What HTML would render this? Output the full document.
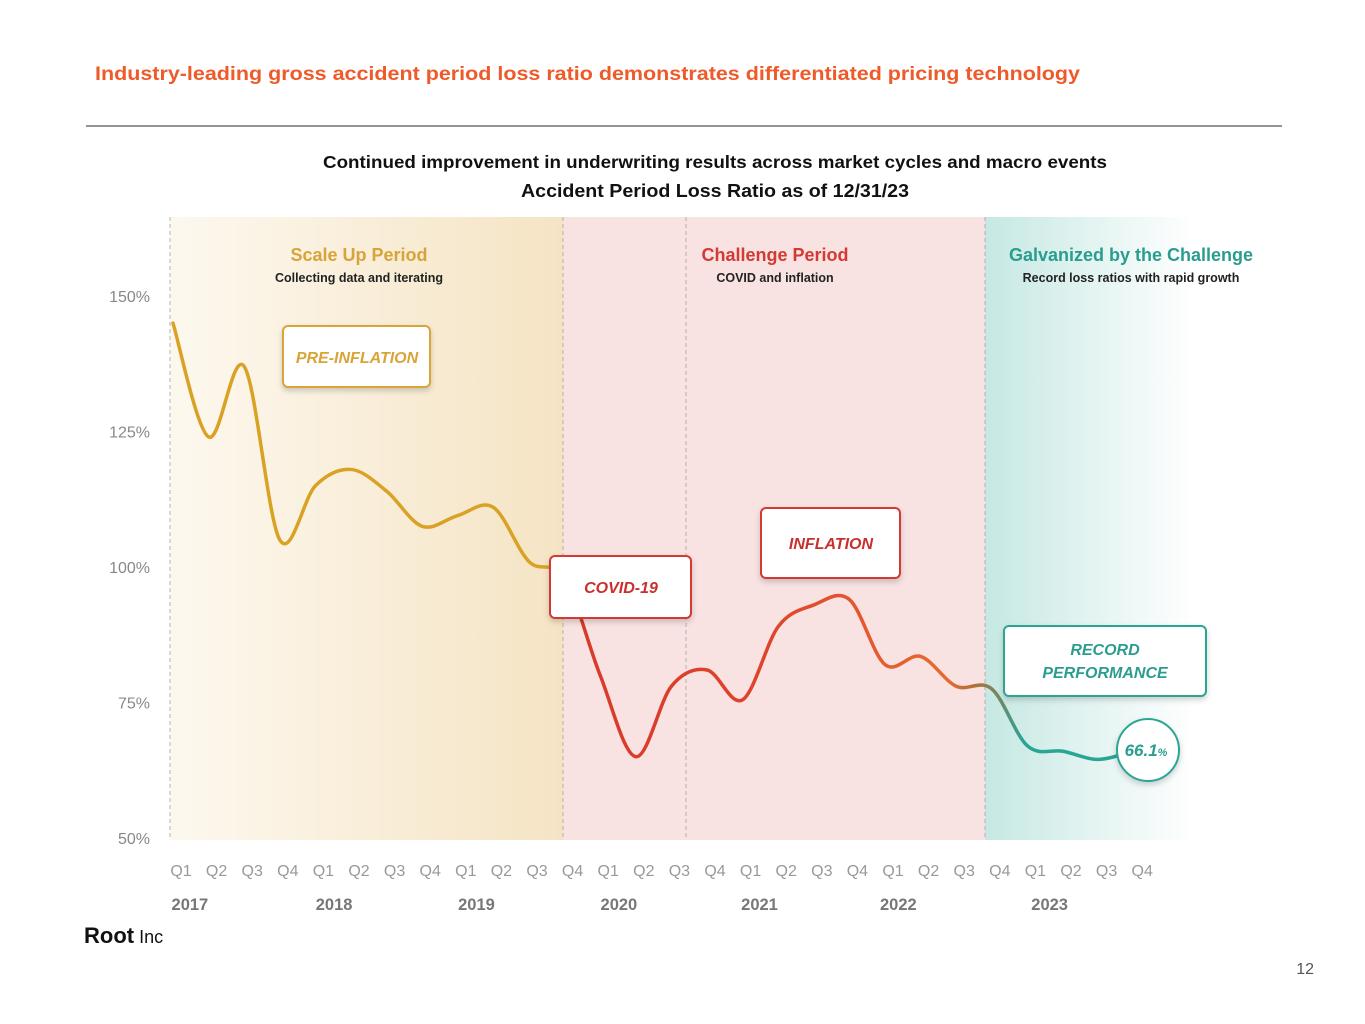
<!DOCTYPE html>
<html><head><meta charset="utf-8">
<style>
body{margin:0;width:1365px;height:1024px;background:#fff;font-family:"Liberation Sans",sans-serif;position:relative;overflow:hidden}
svg{position:absolute;left:0;top:0}
</style></head>
<body>
<svg width="1365" height="1024">
<defs>
<linearGradient id="gScale" x1="0" x2="1" y1="0" y2="0"><stop offset="0" stop-color="#fdf8ef"/><stop offset="1" stop-color="#f5e4c4"/></linearGradient>
<linearGradient id="gGalv" x1="0" x2="1" y1="0" y2="0"><stop offset="0" stop-color="#c6e8e3"/><stop offset="1" stop-color="#ffffff"/></linearGradient>
<linearGradient id="gLine" gradientUnits="userSpaceOnUse" x1="170" x2="1140" y1="0" y2="0">
<stop offset="0.40" stop-color="#d9a225"/><stop offset="0.41" stop-color="#d63a2a"/><stop offset="0.62" stop-color="#e0442c"/><stop offset="0.8" stop-color="#e86a30"/><stop offset="0.83" stop-color="#b0703a"/><stop offset="0.88" stop-color="#2aa594"/><stop offset="1" stop-color="#2aa594"/></linearGradient>
<filter id="sh" x="-20%" y="-20%" width="140%" height="150%"><feDropShadow dx="0" dy="3" stdDeviation="3" flood-color="#000" flood-opacity="0.18"/></filter>
</defs>
<text x="95" y="80" font-size="19.5" font-weight="bold" fill="#ef5a2a" textLength="985" lengthAdjust="spacingAndGlyphs">Industry-leading gross accident period loss ratio demonstrates differentiated pricing technology</text>
<line x1="86" y1="126" x2="1282" y2="126" stroke="#555" stroke-width="1.2"/>
<text x="323" y="168" font-size="17.5" font-weight="bold" fill="#111" textLength="784" lengthAdjust="spacingAndGlyphs">Continued improvement in underwriting results across market cycles and macro events</text>
<text x="521" y="197" font-size="18" font-weight="bold" fill="#111" textLength="388" lengthAdjust="spacingAndGlyphs">Accident Period Loss Ratio as of 12/31/23</text>
<rect x="170" y="217" width="393" height="623" fill="url(#gScale)"/>
<rect x="563" y="217" width="422" height="623" fill="#f8e2e2"/>
<rect x="985" y="217" width="210" height="623" fill="url(#gGalv)"/>
<g stroke="#b9b0b0" stroke-dasharray="4,3" stroke-width="1">
<line x1="170" y1="217" x2="170" y2="840"/>
<line x1="563" y1="217" x2="563" y2="840"/>
<line x1="686" y1="217" x2="686" y2="840"/>
<line x1="985" y1="217" x2="985" y2="840"/>
</g>
<text x="359" y="261" font-size="18" font-weight="bold" text-anchor="middle" fill="#d9a437">Scale Up Period</text>
<text x="359" y="282" font-size="12.5" font-weight="bold" text-anchor="middle" fill="#222">Collecting data and iterating</text>
<text x="775" y="261" font-size="18" font-weight="bold" text-anchor="middle" fill="#d23a35">Challenge Period</text>
<text x="775" y="282" font-size="12.5" font-weight="bold" text-anchor="middle" fill="#222">COVID and inflation</text>
<text x="1131" y="261" font-size="18" font-weight="bold" text-anchor="middle" fill="#2a9d8f">Galvanized by the Challenge</text>
<text x="1131" y="282" font-size="12.5" font-weight="bold" text-anchor="middle" fill="#222">Record loss ratios with rapid growth</text>
<g id="yaxis"></g><g id="xaxis"></g>
<path id="line" fill="none" stroke="url(#gLine)" stroke-width="3.5" stroke-linecap="round"/>
<g filter="url(#sh)">
<rect x="283" y="326" width="147" height="61" rx="5" fill="#fff" stroke="#d9a437" stroke-width="2"/>
<rect x="550" y="556" width="141" height="62" rx="5" fill="#fff" stroke="#d23a35" stroke-width="2"/>
<rect x="761" y="508" width="139" height="70" rx="5" fill="#fff" stroke="#d23a35" stroke-width="2"/>
<rect x="1004" y="626" width="202" height="70" rx="5" fill="#fff" stroke="#2aa594" stroke-width="2"/>
<circle cx="1148" cy="750" r="31" fill="#fff" stroke="#2aa594" stroke-width="2"/>
</g>
<g font-style="italic" font-weight="bold" font-size="16" text-anchor="middle">
<text x="357" y="363" fill="#d9a437">PRE-INFLATION</text>
<text x="621" y="593" fill="#c9302c">COVID-19</text>
<text x="831" y="549" fill="#c9302c">INFLATION</text>
<text x="1105" y="655" fill="#2a9d8f">RECORD</text>
<text x="1105" y="678" fill="#2a9d8f">PERFORMANCE</text>
<text x="1146" y="756" fill="#2a9d8f" font-size="17">66.1<tspan font-size="11">%</tspan></text>
</g>
<text x="84" y="943" font-size="22" font-weight="bold" fill="#111">Root<tspan font-weight="normal" font-size="18"> Inc</tspan></text>
<text x="1314" y="974" font-size="16" text-anchor="end" fill="#555">12</text>
</svg>
<script>
const yTicks=[50,75,100,125,150];
const quarters=["Q1","Q2","Q3","Q4","Q1","Q2","Q3","Q4","Q1","Q2","Q3","Q4","Q1","Q2","Q3","Q4","Q1","Q2","Q3","Q4","Q1","Q2","Q3","Q4","Q1","Q2","Q3","Q4"];
const years=["2017","2018","2019","2020","2021","2022","2023"];
const yearPos=[0.25,4.3,8.3,12.3,16.25,20.15,24.4];
const lossRatio=[145,124,137,105,115,118,114,107.5,109.5,111,101,98,80,65,78,81,75.5,89,93,94,82,83.5,78,77.5,67,66,64.5,66.1];
const ns="http://www.w3.org/2000/svg";
const yS=v=>838-(v-50)*(838-296)/100;
const xS=i=>173+i*35.6;
const lx=i=>181+i*35.6;
const ya=document.getElementById('yaxis'),xa=document.getElementById('xaxis');
yTicks.forEach(v=>{const t=document.createElementNS(ns,'text');


t.setAttribute('x',150);t.setAttribute('y',yS(v)+6);t.setAttribute('text-anchor','end');t.setAttribute('font-size','16');t.setAttribute('fill','#888');t.textContent=v+'%';ya.appendChild(t);});
quarters.forEach((q,i)=>{const t=document.createElementNS(ns,'text');


t.setAttribute('x',lx(i));t.setAttribute('y',876);t.setAttribute('text-anchor','middle');t.setAttribute('font-size','16');t.setAttribute('fill','#999');t.textContent=q;xa.appendChild(t);});
years.forEach((y,i)=>{const t=document.createElementNS(ns,'text');


t.setAttribute('x',lx(yearPos[i]));t.setAttribute('y',910);t.setAttribute('text-anchor','middle');t.setAttribute('font-size','16.5');t.setAttribute('font-weight','bold');t.setAttribute('fill','#777');t.textContent=y;xa.appendChild(t);});
const P=lossRatio.map((v,i)=>[xS(i),yS(v)]);
let d='M'+P[0][0]+','+P[0][1];
for(let i=0;i<P.length-1;i++){const p0=P[i-1]||P[i],p1=P[i],p2=P[i+1],p3=P[i+2]||p2;
const c1=[p1[0]+(p2[0]-p0[0])/6,p1[1]+(p2[1]-p0[1])/6],c2=[p2[0]-(p3[0]-p1[0])/6,p2[1]-(p3[1]-p1[1])/6];
d+=` C${c1[0]},${c1[1]} ${c2[0]},${c2[1]} ${p2[0]},${p2[1]}`;}
document.getElementById('line').setAttribute('d',d);
</script>
</body></html>
